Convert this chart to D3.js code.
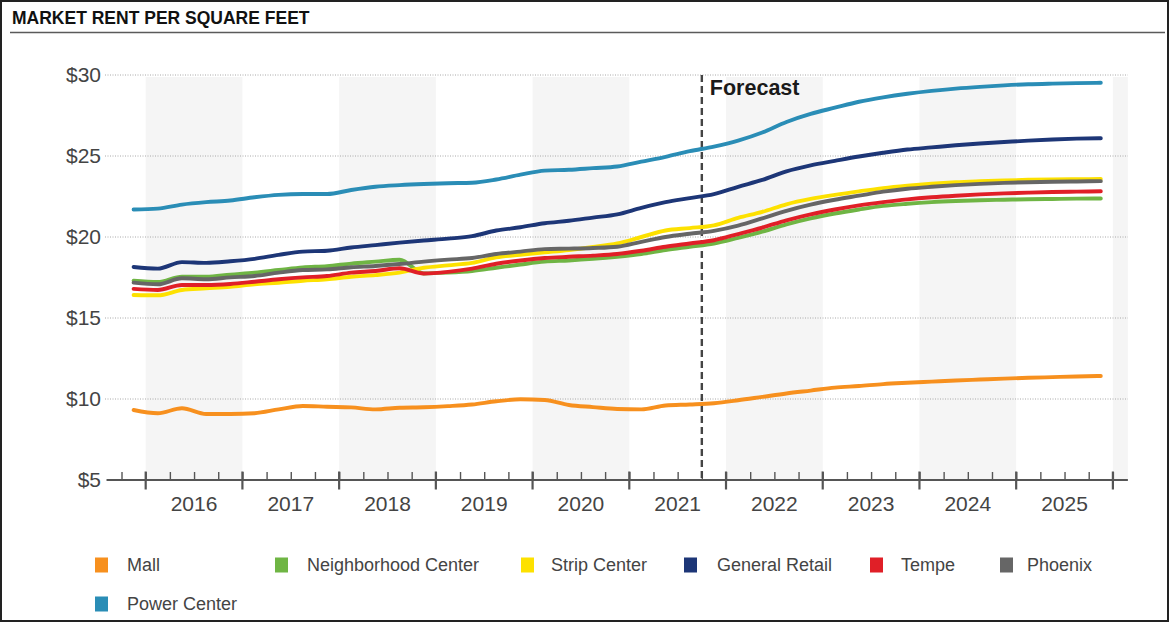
<!DOCTYPE html>
<html>
<head>
<meta charset="utf-8">
<script src="https://cdn.jsdelivr.net/npm/d3@7"></script>
<style>
  body { margin: 0; background: #fff; }
  svg { display: block; font-family: "Liberation Sans", Arial, Helvetica, sans-serif; }
</style>
</head>
<body>
<svg id="chart" width="1172" height="624"></svg>
<script>
// Quarterly periods, 2015 Q4 through 2025 Q4
const quarters = [
  "2015 Q4",
  "2016 Q1","2016 Q2","2016 Q3","2016 Q4",
  "2017 Q1","2017 Q2","2017 Q3","2017 Q4",
  "2018 Q1","2018 Q2","2018 Q3","2018 Q4",
  "2019 Q1","2019 Q2","2019 Q3","2019 Q4",
  "2020 Q1","2020 Q2","2020 Q3","2020 Q4",
  "2021 Q1","2021 Q2","2021 Q3","2021 Q4",
  "2022 Q1","2022 Q2","2022 Q3","2022 Q4",
  "2023 Q1","2023 Q2","2023 Q3","2023 Q4",
  "2024 Q1","2024 Q2","2024 Q3","2024 Q4",
  "2025 Q1","2025 Q2","2025 Q3","2025 Q4"
];
const yearLabels = ["2016","2017","2018","2019","2020","2021","2022","2023","2024","2025"];
const forecastFrom = "2021 Q4";
const yTicks = [5, 10, 15, 20, 25, 30];

// Market rent per square foot ($), one value per quarter
const mall = [9.32, 9.12, 9.43, 9.07, 9.07, 9.12, 9.36, 9.57, 9.52, 9.48, 9.36, 9.46, 9.49, 9.56, 9.66, 9.86, 9.98, 9.94, 9.63, 9.50, 9.38,
  9.36, 9.60, 9.66, 9.74, 9.92, 10.13, 10.34, 10.52, 10.70, 10.80, 10.92, 11.00, 11.07, 11.14, 11.20, 11.26, 11.31, 11.35, 11.39, 11.42];
const neighborhoodCenter = [17.30, 17.22, 17.55, 17.55, 17.68, 17.80, 17.96, 18.12, 18.20, 18.36, 18.48, 18.60,
  17.75, 17.80, 17.90, 18.10, 18.30, 18.48, 18.55, 18.65, 18.78, 18.95, 19.20, 19.40, 19.60,
  19.95, 20.33, 20.78, 21.15, 21.45, 21.70, 21.92, 22.05, 22.15, 22.22, 22.27, 22.30, 22.33, 22.35, 22.37, 22.38];
const stripCenter = [16.42, 16.40, 16.73, 16.83, 16.93, 17.08, 17.18, 17.30, 17.39, 17.55, 17.65, 17.80,
  18.10, 18.25, 18.40, 18.75, 18.90, 19.05, 19.20, 19.38, 19.60, 20.00, 20.40, 20.55, 20.72,
  21.18, 21.55, 22.02, 22.35, 22.60, 22.82, 23.02, 23.17, 23.29, 23.38, 23.44, 23.49, 23.53, 23.56, 23.57, 23.58];
const generalRetail = [18.15, 18.05, 18.45, 18.40, 18.50, 18.65, 18.90, 19.10, 19.15, 19.35, 19.50, 19.65, 19.78,
  19.90, 20.05, 20.40, 20.60, 20.85, 21.00, 21.20, 21.40, 21.80, 22.15, 22.40, 22.65,
  23.10, 23.52, 24.05, 24.42, 24.70, 24.97, 25.20, 25.40, 25.53, 25.66, 25.77, 25.86, 25.95, 26.02, 26.07, 26.10];
const tempe = [16.80, 16.73, 17.04, 17.04, 17.10, 17.24, 17.39, 17.51, 17.59, 17.80, 17.90, 18.07,
  17.75, 17.85, 18.05, 18.35, 18.55, 18.70, 18.78, 18.85, 18.95, 19.15, 19.40, 19.60, 19.80,
  20.18, 20.58, 21.03, 21.40, 21.70, 21.95, 22.15, 22.32, 22.45, 22.55, 22.63, 22.69, 22.74, 22.78, 22.80, 22.82];
const phoenix = [17.18, 17.08, 17.45, 17.39, 17.51, 17.59, 17.80, 17.96, 18.00, 18.13, 18.21, 18.33,
  18.48, 18.60, 18.70, 18.95, 19.10, 19.25, 19.28, 19.32, 19.40, 19.70, 20.00, 20.20, 20.38,
  20.70, 21.15, 21.62, 22.00, 22.30, 22.55, 22.80, 22.98, 23.10, 23.20, 23.28, 23.34, 23.38, 23.41, 23.43, 23.45];
const powerCenter = [21.70, 21.75, 22.00, 22.15, 22.25, 22.45, 22.60, 22.65, 22.65, 22.90, 23.10, 23.20, 23.27,
  23.32, 23.35, 23.55, 23.85, 24.10, 24.15, 24.25, 24.35, 24.65, 24.95, 25.30, 25.58,
  25.95, 26.45, 27.10, 27.60, 27.98, 28.35, 28.62, 28.84, 29.02, 29.16, 29.27, 29.36, 29.43, 29.47, 29.50, 29.52];

const seriesNames = ["Mall", "Neighborhood Center", "Strip Center", "General Retail", "Tempe", "Phoenix", "Power Center"];
const seriesValues = [mall, neighborhoodCenter, stripCenter, generalRetail, tempe, phoenix, powerCenter];
const seriesColors = ["#f7901e", "#6fb544", "#fde100", "#1d3677", "#e01f27", "#666666", "#2a8db6"];

const svg = d3.select("#chart");

// Outer frame
svg.append("rect").attr("x", 1).attr("y", 1).attr("width", 1167).attr("height", 620)
  .attr("fill", "#fff").attr("stroke", "#222").attr("stroke-width", 2);

// Title and rule
svg.append("text").attr("x", 12).attr("y", 24)
  .attr("font-size", 17.5).attr("font-weight", "bold").attr("fill", "#111")
  .text("MARKET RENT PER SQUARE FEET");
svg.append("line").attr("x1", 10).attr("x2", 1165).attr("y1", 32.5).attr("y2", 32.5)
  .attr("stroke", "#5a5a5a").attr("stroke-width", 1.5);

// Scales: x by quarter index (points centred in their quarter)
const x = d3.scaleLinear().domain([0, quarters.length - 1]).range([133.6, 1100.8]);
const y = d3.scaleLinear().domain([5, 30]).range([480, 75]);
const xLeft = x(-1.12), xRight = x(quarters.length - 1 + 1.12);
const yearStartIdx = yearLabels.map(yr => quarters.indexOf(yr + " Q1"));
const step = x(1) - x(0);

// Alternating year shading (even years)
const shadeStarts = yearLabels.map((yr, k) => ({ yr: +yr, start: x(yearStartIdx[k] - 0.5) }))
  .concat([{ yr: 2026, start: x(quarters.length - 0.5) }])
  .filter(d => d.yr % 2 === 0);
svg.append("g").selectAll("rect").data(shadeStarts).join("rect")
  .attr("x", d => d.start)
  .attr("width", d => Math.min(d.start + 4 * step, xRight) - d.start)
  .attr("y", y(30) + 2).attr("height", y(5) - y(30) - 2)
  .attr("fill", "#f5f5f5");

// Dotted gridlines
svg.append("g").selectAll("line").data(yTicks.filter(v => v > 5)).join("line")
  .attr("x1", 105).attr("x2", xRight)
  .attr("y1", d => y(d)).attr("y2", d => y(d))
  .attr("stroke", "#a8a8a8").attr("stroke-width", 1).attr("stroke-dasharray", "1,1.5");

// Y axis labels
const yAxis = svg.append("g").attr("transform", "translate(101,0)")
  .call(d3.axisLeft(y).tickValues(yTicks).tickFormat(d => "$" + d).tickSize(0).tickPadding(0));
yAxis.select(".domain").remove();
yAxis.selectAll("text").attr("font-size", 21).attr("fill", "#444")
  .attr("font-family", "'Liberation Sans', Arial, sans-serif");

// X axis: line, quarter ticks, year ticks, year labels
const axisY = y(5);
const quarterBounds = d3.range(quarters.length + 1).map(i => i - 0.5);
const xAxisMinor = svg.append("g").attr("transform", `translate(0,${axisY})`)
  .call(d3.axisBottom(x).tickValues(quarterBounds).tickSize(-8).tickFormat(""));
xAxisMinor.select(".domain").remove();
xAxisMinor.selectAll(".tick line").attr("stroke", "#555").attr("stroke-width", 1.4);

svg.append("line").attr("x1", xLeft).attr("x2", xRight).attr("y1", axisY).attr("y2", axisY)
  .attr("stroke", "#555").attr("stroke-width", 2.2);

const yearBounds = yearStartIdx.map(i => i - 0.5).concat([quarters.length - 0.5]);
svg.append("g").selectAll("line").data(yearBounds).join("line")
  .attr("x1", d => x(d)).attr("x2", d => x(d))
  .attr("y1", axisY - 8.5).attr("y2", axisY + 9.5)
  .attr("stroke", "#555").attr("stroke-width", 2.2);

svg.append("g").selectAll("text").data(yearLabels).join("text")
  .attr("x", (d, k) => x(yearStartIdx[k] + 1.5))
  .attr("y", 510.5)
  .attr("text-anchor", "middle").attr("font-size", 21).attr("fill", "#444")
  .text(d => d);

// Forecast divider
const fx = x(quarters.indexOf(forecastFrom) - 0.5);
svg.append("line").attr("x1", fx).attr("x2", fx).attr("y1", y(30)).attr("y2", axisY)
  .attr("stroke", "#444").attr("stroke-width", 2.4).attr("stroke-dasharray", "7,4");
svg.append("text").attr("x", fx + 8).attr("y", 95)
  .attr("font-size", 21.5).attr("font-weight", "bold").attr("fill", "#1a1a1a")
  .text("Forecast");

// Series lines
const line = d3.line().x((d, i) => x(i)).y(d => y(d)).curve(d3.curveMonotoneX);
svg.append("g").selectAll("path").data(seriesValues).join("path")
  .attr("d", d => line(d))
  .attr("fill", "none")
  .attr("stroke", (d, k) => seriesColors[k])
  .attr("stroke-width", 3.9)
  .attr("stroke-linejoin", "round")
  .attr("stroke-linecap", "round");

// Legend
const legendPos = [
  { sx: 95, tx: 127, ty: 565 },
  { sx: 275, tx: 307, ty: 565 },
  { sx: 521, tx: 551, ty: 565 },
  { sx: 684, tx: 717, ty: 565 },
  { sx: 870, tx: 901, ty: 565 },
  { sx: 1000, tx: 1027, ty: 565 },
  { sx: 95, tx: 127, ty: 604 }
];
const legend = svg.append("g").selectAll("g").data(seriesNames).join("g");
legend.append("rect")
  .attr("x", (d, k) => legendPos[k].sx)
  .attr("y", (d, k) => legendPos[k].ty - 7.5)
  .attr("width", 13).attr("height", 15)
  .attr("fill", (d, k) => seriesColors[k]);
legend.append("text")
  .attr("x", (d, k) => legendPos[k].tx)
  .attr("y", (d, k) => legendPos[k].ty)
  .attr("dy", "0.35em")
  .attr("font-size", 18).attr("fill", "#444")
  .text(d => d);
</script>
</body>
</html>
